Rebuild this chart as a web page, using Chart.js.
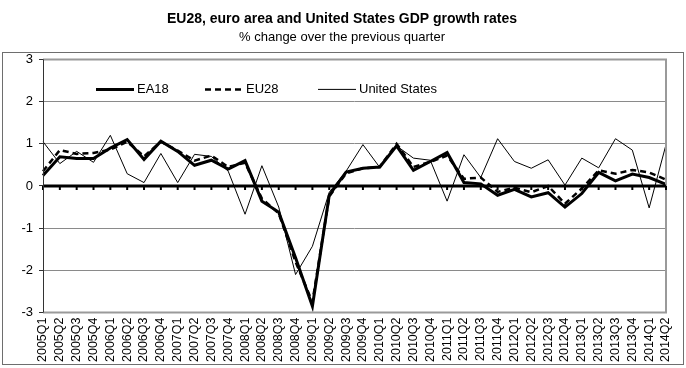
<!DOCTYPE html>
<html>
<head>
<meta charset="utf-8">
<script src="https://cdn.jsdelivr.net/npm/chart.js@4.4.1/dist/chart.umd.min.js"></script>
<style>
  html, body { margin: 0; padding: 0; background: #fff; }
  #gdp { display: block; }
</style>
</head>
<body>
<canvas id="gdp" width="686" height="368"></canvas>
<script>
// quarters 2005Q1 .. 2014Q2
const quarters = ['2005Q1','2005Q2','2005Q3','2005Q4','2006Q1','2006Q2','2006Q3','2006Q4',
  '2007Q1','2007Q2','2007Q3','2007Q4','2008Q1','2008Q2','2008Q3','2008Q4',
  '2009Q1','2009Q2','2009Q3','2009Q4','2010Q1','2010Q2','2010Q3','2010Q4',
  '2011Q1','2011Q2','2011Q3','2011Q4','2012Q1','2012Q2','2012Q3','2012Q4',
  '2013Q1','2013Q2','2013Q3','2013Q4','2014Q1','2014Q2'];

const ea18 = [0.25,0.69,0.65,0.65,0.9,1.1,0.63,1.06,0.82,0.49,0.61,0.4,0.6,-0.36,-0.62,-1.7,
  -2.85,-0.22,0.33,0.42,0.45,0.95,0.37,0.58,0.79,0.08,0.05,-0.22,-0.08,-0.26,-0.16,-0.5,
  -0.18,0.32,0.12,0.28,0.2,0.04];

const eu28 = [0.35,0.85,0.76,0.78,0.86,1.05,0.7,1.05,0.84,0.6,0.72,0.45,0.55,-0.3,-0.65,-1.8,
  -2.75,-0.25,0.3,0.42,0.45,1.0,0.45,0.57,0.72,0.17,0.2,-0.14,-0.04,-0.15,0.0,-0.42,
  -0.06,0.37,0.29,0.38,0.32,0.15];

const us = [1.05,0.53,0.82,0.56,1.2,0.29,0.08,0.77,0.08,0.75,0.7,0.35,-0.67,0.48,-0.5,-2.1,
  -1.43,-0.15,0.35,0.98,0.44,0.95,0.66,0.61,-0.36,0.74,0.2,1.12,0.58,0.42,0.62,0.02,
  0.66,0.43,1.12,0.85,-0.52,0.98];

const yTicks = [-3,-2,-1,0,1,2,3];

const fontName = '"Liberation Sans", Arial, sans-serif';

// frame, plot border, zero line tick marks, legend inside the plot
const decor = {
  id: 'decor',
  beforeDraw(chart) {
    const c = chart.ctx;
    c.save();
    c.fillStyle = '#fff';
    c.fillRect(0, 0, chart.width, chart.height);
    c.strokeStyle = '#6e6e6e';
    c.lineWidth = 1;
    c.strokeRect(2.5, 52.5, chart.width - 5, chart.height - 56);
    c.restore();
  },
  afterDatasetsDraw(chart) {
    const c = chart.ctx, a = chart.chartArea;
    const xs = chart.scales.x, ys = chart.scales.y;
    c.save();
    // plot border right / top / bottom
    c.strokeStyle = '#9a9a9a';
    c.lineWidth = 2;
    c.beginPath();
    c.moveTo(a.left, a.top);
    c.lineTo(a.right, a.top);
    c.lineTo(a.right, a.bottom);
    c.lineTo(a.left, a.bottom);
    c.stroke();
    // zero line + little ticks under it
    const y0 = ys.getPixelForValue(0);
    c.strokeStyle = '#000';
    c.lineWidth = 3;
    c.beginPath();
    c.moveTo(a.left, y0);
    c.lineTo(a.right, y0);
    c.stroke();
    c.lineWidth = 2;
    c.beginPath();
    quarters.forEach((q, i) => {
      const x = xs.getPixelForValue(i);
      c.moveTo(x, y0);
      c.lineTo(x, y0 + 4);
    });
    c.stroke();
    // y axis line
    c.strokeStyle = '#333';
    c.lineWidth = 1;
    c.beginPath();
    c.moveTo(a.left + 0.5, a.top);
    c.lineTo(a.left + 0.5, a.bottom);
    c.stroke();

    // legend
    const ly = a.top + 30;
    const items = [
      { text: 'EA18', x: 53, w: 3, dash: [] },
      { text: 'EU28', x: 162, w: 2.5, dash: [6, 4] },
      { text: 'United States', x: 275, w: 1, dash: [] }
    ];
    c.font = '13px ' + fontName;
    c.fillStyle = '#000';
    c.textBaseline = 'middle';
    items.forEach(it => {
      c.strokeStyle = '#000';
      c.lineWidth = it.w;
      c.setLineDash(it.dash);
      c.beginPath();
      c.moveTo(a.left + it.x, ly);
      c.lineTo(a.left + it.x + 38, ly);
      c.stroke();
      c.setLineDash([]);
      c.fillText(it.text, a.left + it.x + 41, ly);
    });
    c.restore();
  }
};

new Chart(document.getElementById('gdp'), {
  type: 'line',
  data: {
    labels: quarters,
    datasets: [{
        label: 'EA18',
        data: ea18,
        borderColor: '#000',
        borderWidth: 3,
        pointRadius: 0,
        tension: 0,
        fill: false
      }, {
        label: 'EU28',
        data: eu28,
        borderColor: '#000',
        borderWidth: 2.5,
        borderDash: [6, 4],
        pointRadius: 0,
        tension: 0,
        fill: false
      }, {
        label: 'United States',
        data: us,
        borderColor: '#000',
        borderWidth: 1,
        pointRadius: 0,
        tension: 0,
        fill: false
      }
    ]
  },
  options: {
    responsive: false,
    animation: false,
    layout: { padding: { left: 12, right: 14, top: 0, bottom: 1 } },
    plugins: {
      legend: { display: false },
      tooltip: { enabled: false },
      title: {
        display: true,
        text: 'EU28, euro area and United States GDP growth rates',
        color: '#000',
        font: { family: fontName, size: 14, weight: 'bold' },
        padding: { top: 11, bottom: 2 }
      },
      subtitle: {
        display: true,
        text: '% change over the previous quarter',
        color: '#000',
        font: { family: fontName, size: 13 },
        padding: { top: 0, bottom: 14 }
      }
    },
    scales: {
      x: {
        offset: false,
        grid: { display: false, drawTicks: false },
        border: { display: false },
        ticks: {
          autoSkip: false,
          minRotation: 90,
          maxRotation: 90,
          padding: 5,
          color: '#000',
          font: { family: fontName, size: 12.5 }
        }
      },
      y: {
        min: -3,
        max: 3,
        afterBuildTicks: s => { s.ticks = yTicks.map(v => ({ value: v })); },
        afterFit: s => { s.width = 31; },
        grid: {
          color: ctx => ctx.tick && ctx.tick.value === 0 ? 'rgba(0,0,0,0)' : '#8a8a8a',
          lineWidth: 1,
          tickLength: 4,
          tickColor: '#333'
        },
        border: { display: false },
        ticks: {
          padding: 6,
          color: '#000',
          font: { family: fontName, size: 13 }
        }
      }
    }
  },
  plugins: [decor]
});
</script>
</body>
</html>
